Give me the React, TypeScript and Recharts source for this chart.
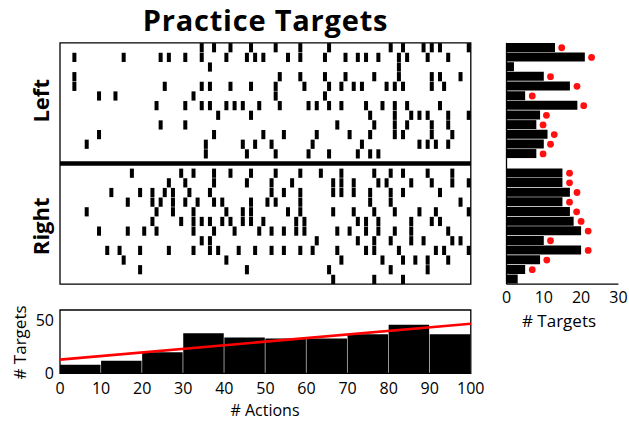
import React from 'react';
import {
  ScatterChart,
  Scatter,
  ComposedChart,
  Bar,
  Line,
  XAxis,
  YAxis,
  ReferenceLine,
  ReferenceArea,
} from 'recharts';

const FONT = '"Open Sans", "DejaVu Sans", sans-serif';

// action index (0-99) of every target hit, one list per trial
const leftTrials: number[][] = [
  [34, 37, 41, 46, 52, 58, 65, 80, 83, 88, 90, 92, 99],
  [3, 15, 24, 26, 30, 34, 40, 45, 47, 49, 55, 58, 64, 69, 72, 74, 77, 82, 84, 89, 94],
  [36, 82],
  [3, 53, 58, 64, 69, 76, 82, 90, 92, 97],
  [3, 25, 34, 36, 41, 46, 52, 59, 65, 68, 71, 73, 79, 81, 83, 90, 93],
  [9, 13, 32, 52, 64],
  [23, 30, 34, 36, 40, 42, 44, 48, 53, 60, 62, 65, 68, 74, 78, 81, 84, 92],
  [38, 46, 75, 81, 85, 87, 89, 94, 99],
  [24, 30, 67, 76, 81, 84, 90, 94],
  [9, 37, 49, 54, 62, 70, 75, 81, 83, 90, 95],
  [6, 35, 44, 47, 51, 61, 73, 87, 89, 91, 94],
  [35, 45, 52, 60, 65, 72, 75, 77],
];

const rightTrials: number[][] = [
  [17, 29, 32, 37, 41, 46, 52, 58, 63, 68, 76, 80, 83, 89, 95],
  [26, 30, 37, 45, 51, 56, 66, 68, 71, 77, 79, 85, 90, 95, 99],
  [12, 19, 22, 25, 27, 31, 36, 51, 54, 58, 66, 68, 71, 75, 80, 83, 92],
  [16, 22, 24, 27, 30, 33, 37, 39, 46, 50, 52, 58, 75, 80, 97],
  [6, 23, 27, 32, 40, 44, 46, 55, 58, 66, 71, 76, 81, 87, 91, 99],
  [22, 29, 32, 34, 36, 39, 41, 44, 46, 49, 57, 59, 72, 74, 77, 85, 90, 92],
  [9, 16, 20, 23, 32, 37, 42, 48, 51, 54, 57, 59, 67, 70, 74, 77, 81, 85, 94],
  [34, 36, 62, 72, 76, 80, 85, 88, 95, 97],
  [11, 14, 19, 26, 32, 36, 38, 43, 47, 51, 54, 58, 61, 67, 74, 76, 82, 91, 93, 99],
  [15, 40, 68, 78, 83, 86, 89, 94],
  [19, 45, 65, 80, 89],
  [66, 76, 83],
];

// right panel: targets per trial (bars) and red markers
const leftCounts = [13, 21, 2, 10, 17, 5, 19, 9, 8, 11, 10, 8];
const leftDots = [14.8, 22.8, null, 11.8, 18.9, 6.9, 20.7, 10.7, 9.8, 12.8, 11.8, 9.8];
const rightCounts = [15, 15, 17, 15, 17, 18, 20, 10, 20, 9, 5, 3];
const rightDots = [16.9, 16.9, 18.9, 16.9, 18.8, 20, 21.9, 11.8, 21.9, 10.8, 6.9, null];

// bottom panel: targets per 10 actions, and the fitted line
const binStarts = [0, 10, 20, 30, 40, 50, 60, 70, 80, 90];
const binCounts = [8, 12, 20, 38, 34, 33, 33, 37, 46, 37];
const fitX = [0, 100];
const fitY = [13, 47];

const actionTicks = [0, 10, 20, 30, 40, 50, 60, 70, 80, 90, 100];
const targetTicks = [0, 10, 20, 30];
const histYTicks = [0, 50];
const sideLabels = ['Left', 'Right'];

const GAP_ROW = leftTrials.length;
const ROWS = leftTrials.length + rightTrials.length + 1;

const rasterPoints = [
  ...leftTrials.flatMap((acts, r) => acts.map((a) => ({ x: a + 0.5, y: r }))),
  ...rightTrials.flatMap((acts, r) => acts.map((a) => ({ x: a + 0.5, y: GAP_ROW + 1 + r }))),
];

const targetRows = [
  ...leftCounts.map((c, i) => ({ row: `L${i + 1}`, count: c, dot: leftDots[i] })),
  { row: 'gap', count: null, dot: null },
  ...rightCounts.map((c, i) => ({ row: `R${i + 1}`, count: c, dot: rightDots[i] })),
];

const histData = binStarts.map((s, i) => ({ mid: s + 5, count: binCounts[i] }));

const tickFont = { fontSize: 16, fill: '#000', fontFamily: FONT };

const TargetMark = (props: any) => {
  const { cx, cy } = props;
  if (cx == null || cy == null) return null;
  return <rect x={cx - 2} y={cy - 4.6} width={4} height={9.2} fill="#000" />;
};

const SideLabel = (props: any) => {
  const { x, y, index } = props;
  return (
    <text
      x={x}
      y={y}
      transform={`rotate(-90 ${x} ${y})`}
      textAnchor="middle"
      fontSize={22}
      fontWeight={700}
      fontFamily={FONT}
      fill="#000"
    >
      {sideLabels[index]}
    </text>
  );
};

const abs = (left: number, top: number): React.CSSProperties => ({ position: 'absolute', left, top });

export default function App() {
  return (
    <div style={{ position: 'absolute', left: 0, top: 0, width: 629, height: 424, background: '#fff', fontFamily: FONT, color: '#000' }}>
      <div style={{ ...abs(0, 0), width: 531, textAlign: 'center', fontSize: 29, fontWeight: 700, letterSpacing: 0.8, lineHeight: 'normal' }}>
        Practice Targets
      </div>

      {/* raster of target hits */}
      <div style={abs(0, 0)}>
        <ScatterChart width={480} height={300} margin={{ top: 42.9, right: 9.2, bottom: 15.8, left: 20 }}>
          <XAxis xAxisId="a" dataKey="x" type="number" domain={[0, 100]} ticks={actionTicks} allowDataOverflow
            mirror tick={false} tickSize={4} axisLine={false} tickLine={{ stroke: '#000' }} />
          <XAxis xAxisId="top" orientation="top" type="number" domain={[0, 100]} ticks={actionTicks} allowDataOverflow
            mirror tick={false} tickSize={4} axisLine={false} tickLine={{ stroke: '#000' }} />
          <YAxis yAxisId="r" dataKey="y" type="number" domain={[-0.5, ROWS - 0.5]} reversed allowDataOverflow
            width={40} ticks={[(GAP_ROW - 1) / 2, GAP_ROW + 1 + (rightTrials.length - 1) / 2]}
            tick={<SideLabel />} tickLine={false} axisLine={false} tickSize={0} tickMargin={11} />
          <Scatter xAxisId="a" yAxisId="r" data={rasterPoints} shape={<TargetMark />} isAnimationActive={false} />
          <ReferenceArea xAxisId="a" yAxisId="r" x1={0} x2={100} y1={-0.5} y2={ROWS - 0.5}
            fill="none" stroke="#000" strokeWidth={1.3} ifOverflow="visible" />
          <ReferenceLine xAxisId="a" yAxisId="r" y={GAP_ROW} stroke="#000" strokeWidth={4.5} />
        </ScatterChart>
      </div>

      {/* targets per trial */}
      <div style={abs(480, 0)}>
        <ComposedChart layout="vertical" width={149} height={340} data={targetRows}
          margin={{ top: 42.9, right: 10.6, bottom: 35.8, left: 26.5 }}>
          <XAxis xAxisId="c" type="number" domain={[0, 30]} ticks={targetTicks} height={20}
            tickSize={0} tickMargin={7} tickLine={false} axisLine={{ stroke: '#000', strokeWidth: 1.3 }} tick={tickFont} />
          <XAxis xAxisId="ci" type="number" domain={[0, 30]} ticks={targetTicks} mirror tick={false}
            tickSize={4} axisLine={false} tickLine={{ stroke: '#000' }} />
          <YAxis type="category" dataKey="row" hide />
          <ReferenceLine xAxisId="c" x={0} stroke="#000" strokeWidth={1.3} />
          <Bar xAxisId="c" dataKey="count" fill="#000" barSize={9} isAnimationActive={false} />
          <Line xAxisId="c" dataKey="dot" stroke="none" dot={{ r: 3.4, fill: '#ff1010', stroke: 'none' }}
            activeDot={false} isAnimationActive={false} />
        </ComposedChart>
      </div>
      <div style={{ ...abs(509, 309), width: 100, textAlign: 'center', fontSize: 17 }}># Targets</div>

      {/* targets per 10 actions */}
      <div style={abs(0, 295)}>
        <ComposedChart width={490} height={129} data={histData} margin={{ top: 15, right: 19.2, bottom: 20.7, left: 20 }}>
          <XAxis xAxisId="h" dataKey="mid" type="number" domain={[0, 100]} ticks={actionTicks} height={30}
            tickSize={0} tickMargin={9} tickLine={false} axisLine={false} tick={tickFont} />
          <XAxis xAxisId="hb" type="number" domain={[0, 100]} ticks={actionTicks} mirror tick={false}
            tickSize={4} axisLine={false} tickLine={{ stroke: '#000' }} />
          <XAxis xAxisId="ht" orientation="top" type="number" domain={[0, 100]} ticks={actionTicks} mirror tick={false}
            tickSize={4} axisLine={false} tickLine={{ stroke: '#000' }} />
          <YAxis yAxisId="v" type="number" domain={[0, 60]} ticks={histYTicks} width={40}
            tickSize={0} tickMargin={6} tickLine={false} axisLine={false} tick={tickFont} />
          <YAxis yAxisId="vi" type="number" domain={[0, 60]} ticks={histYTicks} mirror tick={false}
            tickSize={4} axisLine={false} tickLine={{ stroke: '#000' }} />
          <Bar xAxisId="h" yAxisId="v" dataKey="count" fill="#000" barSize={40.5} isAnimationActive={false} />
          <ReferenceArea xAxisId="h" yAxisId="v" x1={0} x2={100} y1={0} y2={60}
            fill="none" stroke="#000" strokeWidth={1.3} ifOverflow="visible" />
          <ReferenceLine xAxisId="h" yAxisId="v" stroke="#ff0000" strokeWidth={2.6}
            segment={[{ x: fitX[0], y: fitY[0] }, { x: fitX[1], y: fitY[1] }]} />
        </ComposedChart>
      </div>
      <div style={{ ...abs(215, 401.5), width: 100, textAlign: 'center', fontSize: 16, lineHeight: '16px' }}># Actions</div>
      <div style={{ ...abs(-31.5, 331), width: 100, textAlign: 'center', fontSize: 17, transform: 'rotate(-90deg)' }}>
        # Targets
      </div>
    </div>
  );
}
